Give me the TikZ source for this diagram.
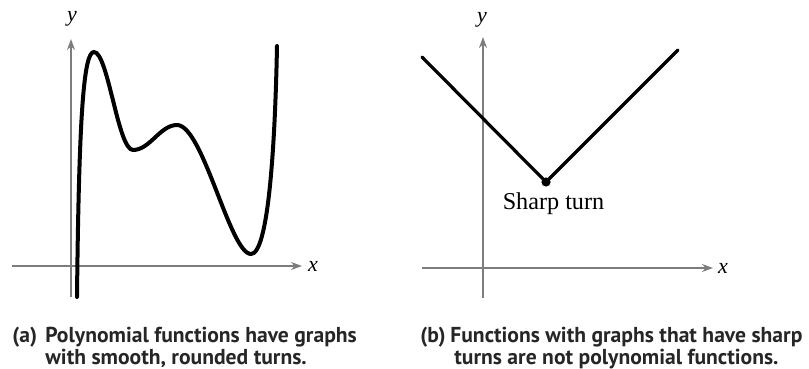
\documentclass[tikz,border=0pt]{standalone}
\usepackage{fontspec}
\setmainfont{Liberation Serif}
\newfontfamily\capfont{PT Sans Bold}
\usetikzlibrary{arrows.meta}
\definecolor{axisgray}{RGB}{125,125,125}
\tikzset{
  axis/.style={draw=axisgray, line width=0.85pt, -{Stealth[length=5.5pt,width=4pt]}},
  graphline/.style={line width=2pt, line cap=round},
  vline/.style={line width=1.6pt, line cap=round, line join=miter},
  axlabel/.style={font=\fontsize{11}{13}\selectfont\itshape, inner sep=0pt},
  captext/.style={font=\capfont\fontsize{10.8}{12}\selectfont, anchor=base west, inner sep=0pt, text=black!85},
}
\begin{document}
\begin{tikzpicture}[x=0.5pt, y=-0.5pt]
\useasboundingbox (0,0) rectangle (809,369);
% ---------- left graph ----------
\coordinate (ax0) at (12,266);
\coordinate (ax1) at (302,266);
\coordinate (ay0) at (71,297);
\coordinate (ay1) at (71,39);
\draw[axis] (ax0) -- (ax1);
\draw[axis] (ay0) -- (ay1);
\node[axlabel] (xa) at (313,266) {x};
\node[axlabel] (ya) at (72,19) {y};
\coordinate (p0) at (77,297);
\coordinate (p1) at (94,52);
\coordinate (p2) at (133,150);
\coordinate (p3) at (177,125);
\coordinate (p4) at (251,254);
\coordinate (p5) at (277,46);
\draw[graphline] (p0) .. controls (79,110) and (84,52) .. (p1)
  .. controls (108,52) and (118,150) .. (p2)
  .. controls (150,150) and (160,125) .. (p3)
  .. controls (203,125) and (230,254) .. (p4)
  .. controls (268,254) and (275,150) .. (p5);
% ---------- right graph ----------
\coordinate (bx0) at (422,268);
\coordinate (bx1) at (713,268);
\coordinate (by0) at (483,298);
\coordinate (by1) at (483,37);
\draw[axis] (bx0) -- (bx1);
\draw[axis] (by0) -- (by1);
\node[axlabel] (xb) at (723,268) {x};
\node[axlabel] (yb) at (482,20) {y};
\coordinate (v0) at (422,57);
\coordinate (v) at (546,182);
\coordinate (v1) at (678,50);
\draw[vline] (v0) -- (v) -- (v1);
\fill (v) circle[radius=2.3pt];
\node[font=\fontsize{12.1}{14}\selectfont, anchor=base, inner sep=0pt] (st) at (553.5,210) {Sharp turn};
% ---------- captions ----------
\node[captext] (ca) at (12,342) {(a)};
\node[captext] (ca1) at (45,342) {Polynomial functions have graphs};
\node[captext] (ca2) at (45,364) {with smooth, rounded turns.};
\node[captext] (cb) at (420,342) {(b)};
\node[captext] (cb1) at (450,342) {Functions with graphs that have sharp};
\node[captext] (cb2) at (454,364) {turns are not polynomial functions.};
\end{tikzpicture}
\end{document}
